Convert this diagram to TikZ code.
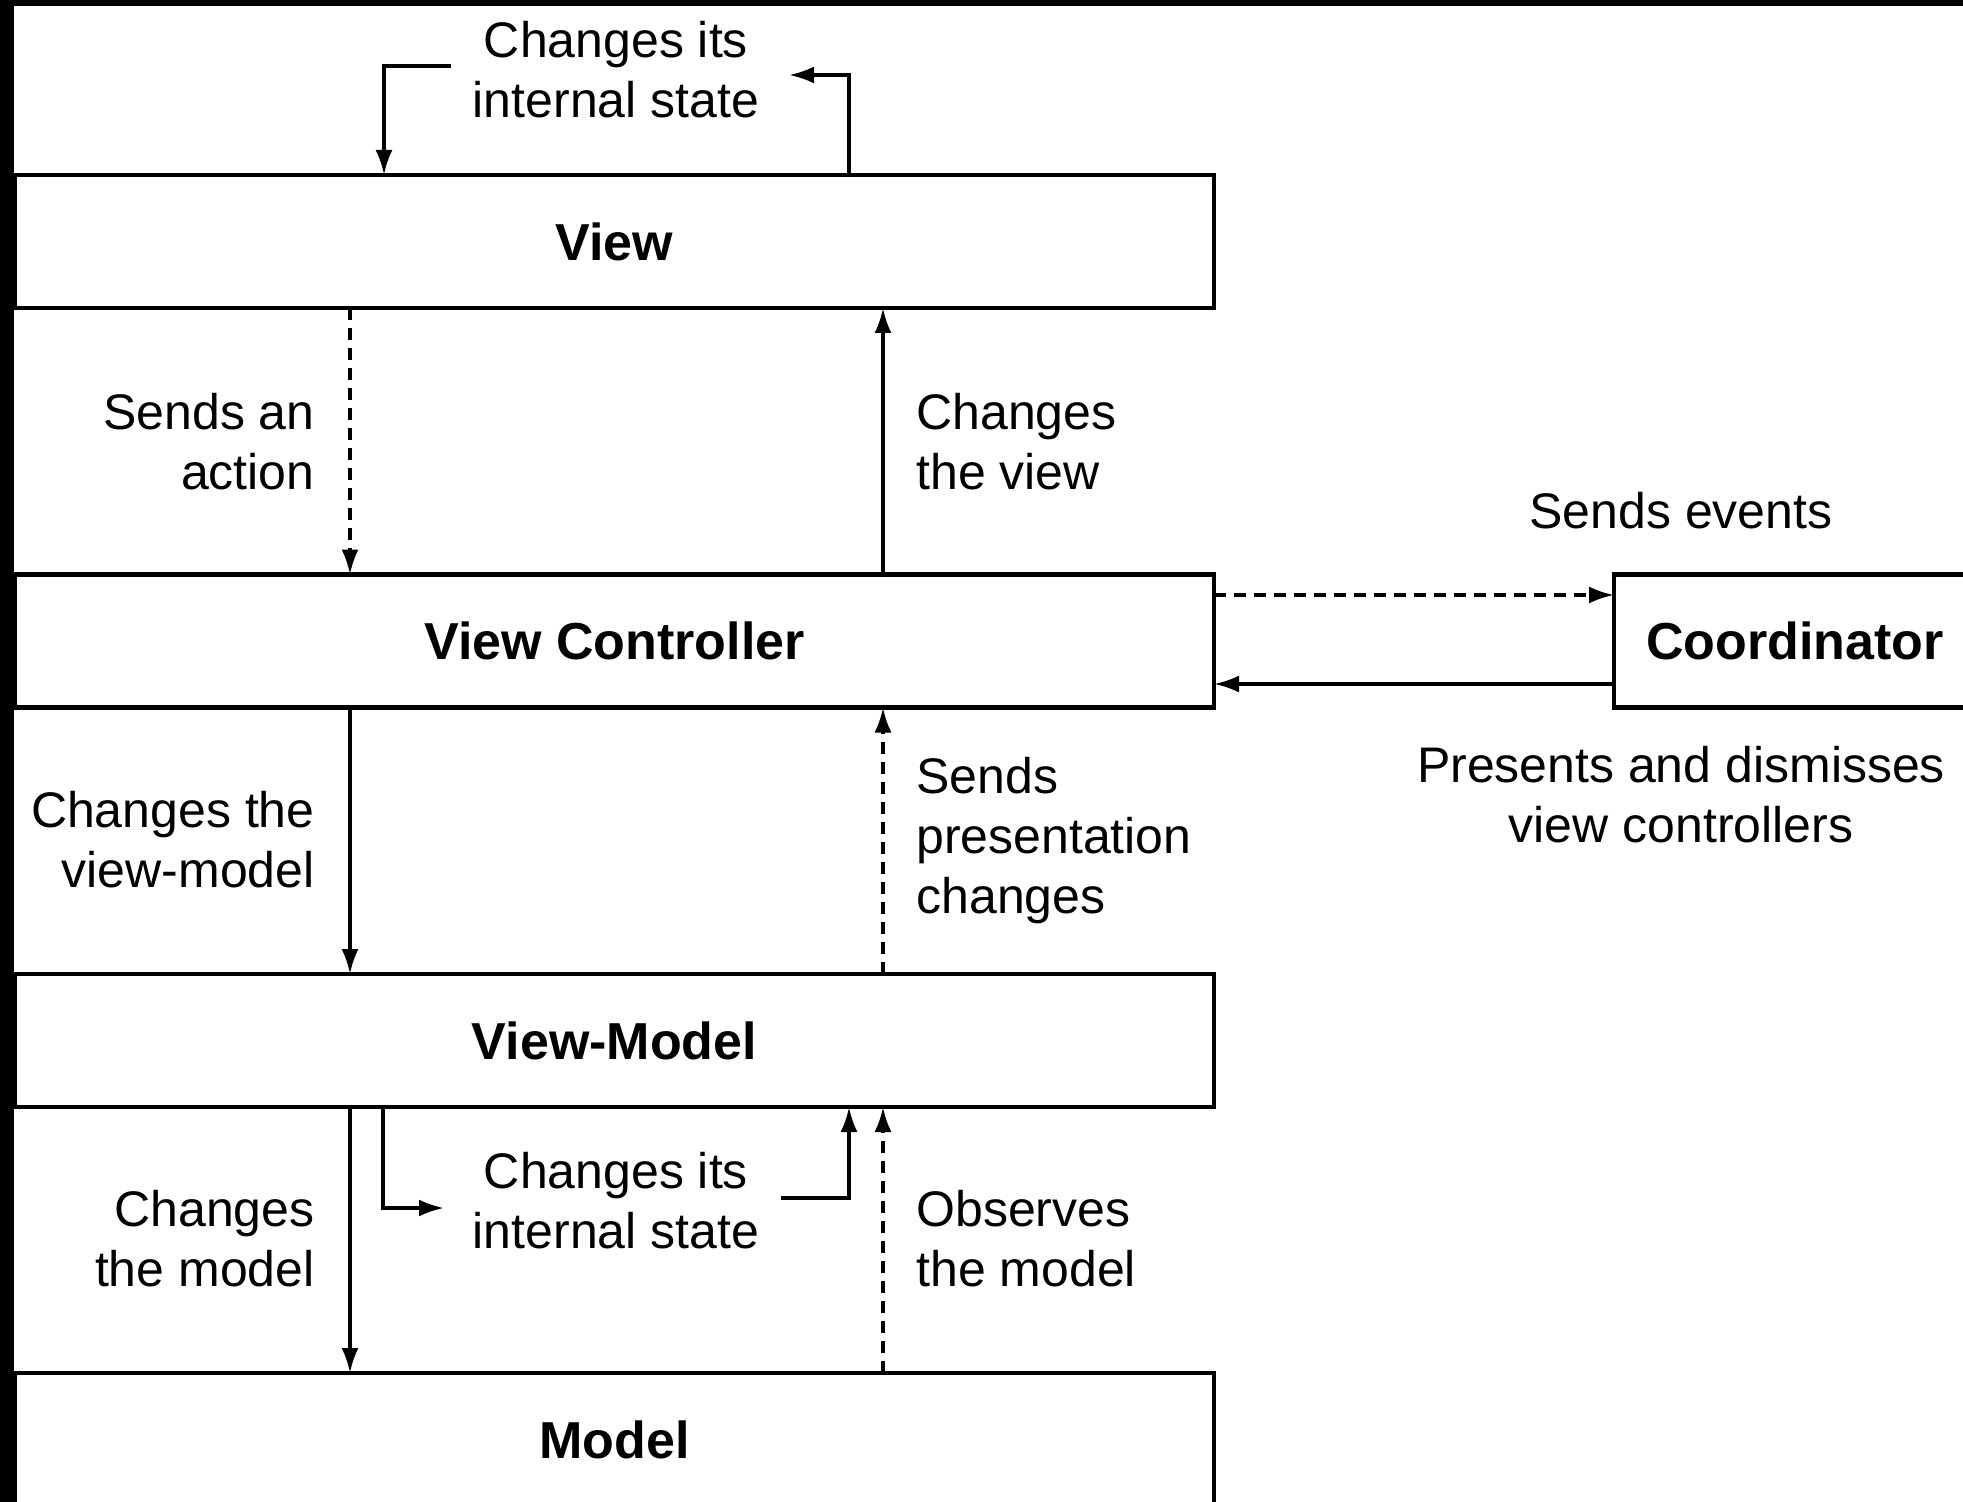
\documentclass[tikz,border=0pt]{standalone}
\usepackage{fontspec}
\setmainfont{Liberation Sans}
\usetikzlibrary{arrows.meta}
\begin{document}
\begin{tikzpicture}[x=0.5pt,y=-0.5pt,
  layer/.style={draw, line width=2.4pt, fill=white, inner sep=0pt, outer sep=0pt,
    minimum width=599.5pt, minimum height=66.5pt,
    font=\fontsize{26}{30}\selectfont\bfseries},
  flow/.style={line width=1.7pt, -{Latex[length=12.5pt,width=8.5pt]}},
  async/.style={flow, dash pattern=on 6pt off 4pt},
  note/.style={font=\fontsize{25}{30}\selectfont, inner sep=0pt}
]
\useasboundingbox (0,0) rectangle (1963,1502);
% frame
\fill[black] (0,0) rectangle (1963,1502);
\fill[white] (14,6) rectangle (1963,1502);

% layers
\node[layer] (view)  at (614.5,241.5) {View};
\node[layer] (vc)    at (614.5,641)   {View Controller};
\node[layer] (vm)    at (614.5,1040.5){View-Model};
\node[layer] (model) at (614.5,1439.5){Model};
\node[layer, minimum width=181pt] (coord) at (1795,641) {Coordinator};

% columns and helper points
\coordinate (cl) at (350,0);
\coordinate (cr) at (883,0);
\coordinate (la) at (384,0);
\coordinate (lb) at (849,0);
\coordinate (lc) at (383,0);
\coordinate (topA) at (451,66);
\coordinate (topB) at (789,75);
\coordinate (botA) at (444,1208);
\coordinate (botB) at (781,1198);
\coordinate (ev) at (0,595);
\coordinate (pr) at (0,684);

% vertical connectors
\draw[async] (view.south -| cl) -- (vc.north -| cl);
\draw[flow]  (vc.north -| cr) -- (view.south -| cr);
\draw[flow]  (vc.south -| cl) -- (vm.north -| cl);
\draw[async] (vm.north -| cr) -- (vc.south -| cr);
\draw[flow]  (vm.south -| cl) -- (model.north -| cl);
\draw[async] (model.north -| cr) -- (vm.south -| cr);

% self loops
\draw[flow] (topA) -| (view.north -| la);
\draw[flow] (view.north -| lb) |- (topB);
\draw[flow] (vm.south -| lc) |- (botA);
\draw[flow] (botB) -| (vm.south -| lb);

% coordinator links
\draw[async] (vc.east |- ev) -- (coord.west |- ev);
\draw[flow]  (coord.west |- pr) -- (vc.east |- pr);

% labels
\node[note, align=center] (selfv) at (616,70) {Changes its\\internal state};
\node[note, align=center] (selfvm) at (616,1201) {Changes its\\internal state};
\node[note, align=right, anchor=east] (act) at (315,442) {Sends an\\action};
\node[note, align=left, anchor=west] (chv) at (916,442) {Changes\\the view};
\node[note, align=right, anchor=east] (chvm) at (315,840) {Changes the\\view-model};
\node[note, align=left, anchor=west] (pres) at (916,841) {Sends\\presentation\\changes};
\node[note, align=right, anchor=east] (chm) at (315,1239) {Changes\\the model};
\node[note, align=left, anchor=west] (obs) at (916,1239) {Observes\\the model};
\node[note] (evt) at (1681,511) {Sends events};
\node[note, align=center] (pd) at (1681,795) {Presents and dismisses\\view controllers};
\end{tikzpicture}
\end{document}
